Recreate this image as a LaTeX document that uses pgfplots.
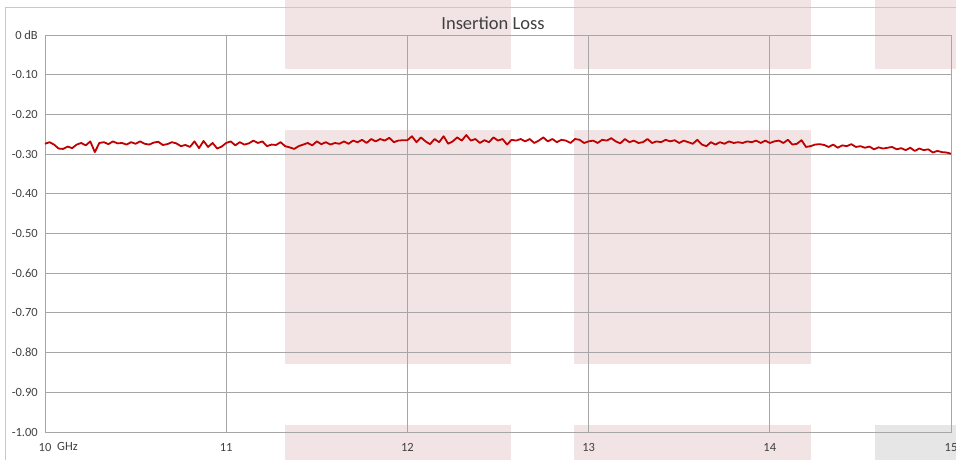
\documentclass[border=0pt]{standalone}
\usepackage{fontspec}
\setmainfont{Carlito}
\usepackage{pgfplots}
\pgfplotsset{compat=1.18}
\pgfdeclarelayer{bg}
\pgfsetlayers{bg,main}
\definecolor{pinkbg}{HTML}{F2E4E4}
\definecolor{graybg}{HTML}{E6E6E6}
\definecolor{gridc}{HTML}{A6A6A6}
\definecolor{framec}{HTML}{C8C8C8}
\definecolor{linered}{HTML}{C00000}
\definecolor{txt}{HTML}{404040}
\begin{document}
\begin{tikzpicture}
\begin{axis}[
  scale only axis, width=906pt, height=397pt,
  xmin=10, xmax=15, ymin=-1, ymax=0,
  xtick={10,11,12,13,14,15},
  xticklabels={10,11,12,13,14,15},
  ytick={-1,-0.9,-0.8,-0.7,-0.6,-0.5,-0.4,-0.3,-0.2,-0.1,0},
  yticklabels={-1.00,-0.90,-0.80,-0.70,-0.60,-0.50,-0.40,-0.30,-0.20,-0.10,0 dB},
  grid=major,
  major grid style={color=gridc, line width=0.9pt},
  axis line style={color=gridc, line width=0.9pt},
  major tick length=0pt,
  tick style={draw=none},
  yticklabel style={font=\fontsize{12.5}{14}\selectfont, text=txt, anchor=east, inner sep=0pt, xshift=-7pt},
  xticklabel style={font=\fontsize{12.5}{14}\selectfont, text=txt, anchor=north, inner sep=0pt, yshift=-11pt},
  clip=false,
]
\coordinate (O) at (axis cs:10,-1);
\addplot[color=linered, line width=1.8pt, mark=none, line join=round] coordinates {
(10.000,-0.274)(10.025,-0.270)(10.050,-0.276)(10.075,-0.286)(10.100,-0.287)
(10.125,-0.281)(10.150,-0.285)(10.175,-0.276)(10.200,-0.272)(10.225,-0.278)
(10.250,-0.268)(10.275,-0.295)(10.300,-0.272)(10.325,-0.270)(10.350,-0.275)
(10.375,-0.268)(10.400,-0.273)(10.425,-0.272)(10.450,-0.276)(10.475,-0.270)
(10.500,-0.274)(10.525,-0.268)(10.550,-0.274)(10.575,-0.276)(10.600,-0.271)
(10.625,-0.269)(10.650,-0.277)(10.675,-0.275)(10.700,-0.270)(10.725,-0.273)
(10.750,-0.280)(10.775,-0.277)(10.800,-0.282)(10.825,-0.268)(10.850,-0.285)
(10.875,-0.267)(10.900,-0.282)(10.925,-0.272)(10.950,-0.286)(10.975,-0.281)
(11.000,-0.272)(11.025,-0.268)(11.050,-0.278)(11.075,-0.270)(11.100,-0.276)
(11.125,-0.273)(11.150,-0.266)(11.175,-0.272)(11.200,-0.268)(11.225,-0.280)
(11.250,-0.276)(11.275,-0.277)(11.300,-0.270)(11.325,-0.280)(11.350,-0.283)
(11.375,-0.287)(11.400,-0.280)(11.425,-0.276)(11.450,-0.272)(11.475,-0.278)
(11.500,-0.268)(11.525,-0.275)(11.550,-0.270)(11.575,-0.276)(11.600,-0.272)
(11.625,-0.274)(11.650,-0.268)(11.675,-0.274)(11.700,-0.266)(11.725,-0.270)
(11.750,-0.264)(11.775,-0.272)(11.800,-0.262)(11.825,-0.268)(11.850,-0.262)
(11.875,-0.266)(11.900,-0.259)(11.925,-0.270)(11.950,-0.266)(11.975,-0.265)
(12.000,-0.265)(12.025,-0.255)(12.050,-0.270)(12.075,-0.258)(12.100,-0.268)
(12.125,-0.275)(12.150,-0.262)(12.175,-0.270)(12.200,-0.255)(12.225,-0.274)
(12.250,-0.268)(12.275,-0.258)(12.300,-0.266)(12.325,-0.252)(12.350,-0.266)
(12.375,-0.262)(12.400,-0.272)(12.425,-0.265)(12.450,-0.270)(12.475,-0.258)
(12.500,-0.266)(12.525,-0.262)(12.550,-0.276)(12.575,-0.264)(12.600,-0.266)
(12.625,-0.262)(12.650,-0.268)(12.675,-0.262)(12.700,-0.272)(12.725,-0.266)
(12.750,-0.258)(12.775,-0.268)(12.800,-0.262)(12.825,-0.270)(12.850,-0.264)
(12.875,-0.266)(12.900,-0.272)(12.925,-0.262)(12.950,-0.264)(12.975,-0.272)
(13.000,-0.268)(13.025,-0.266)(13.050,-0.272)(13.075,-0.264)(13.100,-0.266)
(13.125,-0.260)(13.150,-0.268)(13.175,-0.273)(13.200,-0.262)(13.225,-0.270)
(13.250,-0.266)(13.275,-0.272)(13.300,-0.270)(13.325,-0.262)(13.350,-0.272)
(13.375,-0.268)(13.400,-0.270)(13.425,-0.264)(13.450,-0.268)(13.475,-0.265)
(13.500,-0.272)(13.525,-0.266)(13.550,-0.270)(13.575,-0.274)(13.600,-0.264)
(13.625,-0.276)(13.650,-0.280)(13.675,-0.270)(13.700,-0.276)(13.725,-0.270)
(13.750,-0.274)(13.775,-0.268)(13.800,-0.272)(13.825,-0.270)(13.850,-0.272)
(13.875,-0.268)(13.900,-0.270)(13.925,-0.266)(13.950,-0.272)(13.975,-0.266)
(14.000,-0.272)(14.025,-0.268)(14.050,-0.266)(14.075,-0.272)(14.100,-0.264)
(14.125,-0.276)(14.150,-0.274)(14.175,-0.265)(14.200,-0.282)(14.225,-0.280)
(14.250,-0.276)(14.275,-0.275)(14.300,-0.277)(14.325,-0.282)(14.350,-0.276)
(14.375,-0.284)(14.400,-0.278)(14.425,-0.280)(14.450,-0.275)(14.475,-0.282)
(14.500,-0.280)(14.525,-0.284)(14.550,-0.281)(14.575,-0.288)(14.600,-0.283)
(14.625,-0.286)(14.650,-0.284)(14.675,-0.282)(14.700,-0.288)(14.725,-0.285)
(14.750,-0.290)(14.775,-0.284)(14.800,-0.292)(14.825,-0.286)(14.850,-0.290)
(14.875,-0.288)(14.900,-0.296)(14.925,-0.292)(14.950,-0.295)(14.975,-0.296)
(15.000,-0.299)
};
\node[font=\fontsize{12.5}{14}\selectfont, text=txt, anchor=west, inner sep=0pt] at ([xshift=12pt,yshift=-14pt]axis cs:10,-1) {GHz};
\end{axis}
\pgfresetboundingbox
\begin{scope}[shift={(O)}, x=1pt, y=1pt, shift={(-45,-28)}]
\path[use as bounding box] (0,0) rectangle (956,460);
\begin{pgfonlayer}{bg}
\fill[pinkbg] (285,391) rectangle (511,460);
\fill[pinkbg] (285,96) rectangle (511,330);
\fill[pinkbg] (285,0) rectangle (511,35);
\fill[pinkbg] (574,391) rectangle (811,460);
\fill[pinkbg] (574,96) rectangle (811,330);
\fill[pinkbg] (574,0) rectangle (811,35);
\fill[pinkbg] (875,391) rectangle (960,460);
\fill[graybg] (875,0) rectangle (960,35);
\end{pgfonlayer}
\draw[color=framec, line width=1pt] (6,-5) -- (6,452) -- (970,452);
\node[font=\fontsize{18.5}{20}\selectfont, text=txt] at (493,437) {Insertion Loss};
\end{scope}
\end{tikzpicture}
\end{document}
